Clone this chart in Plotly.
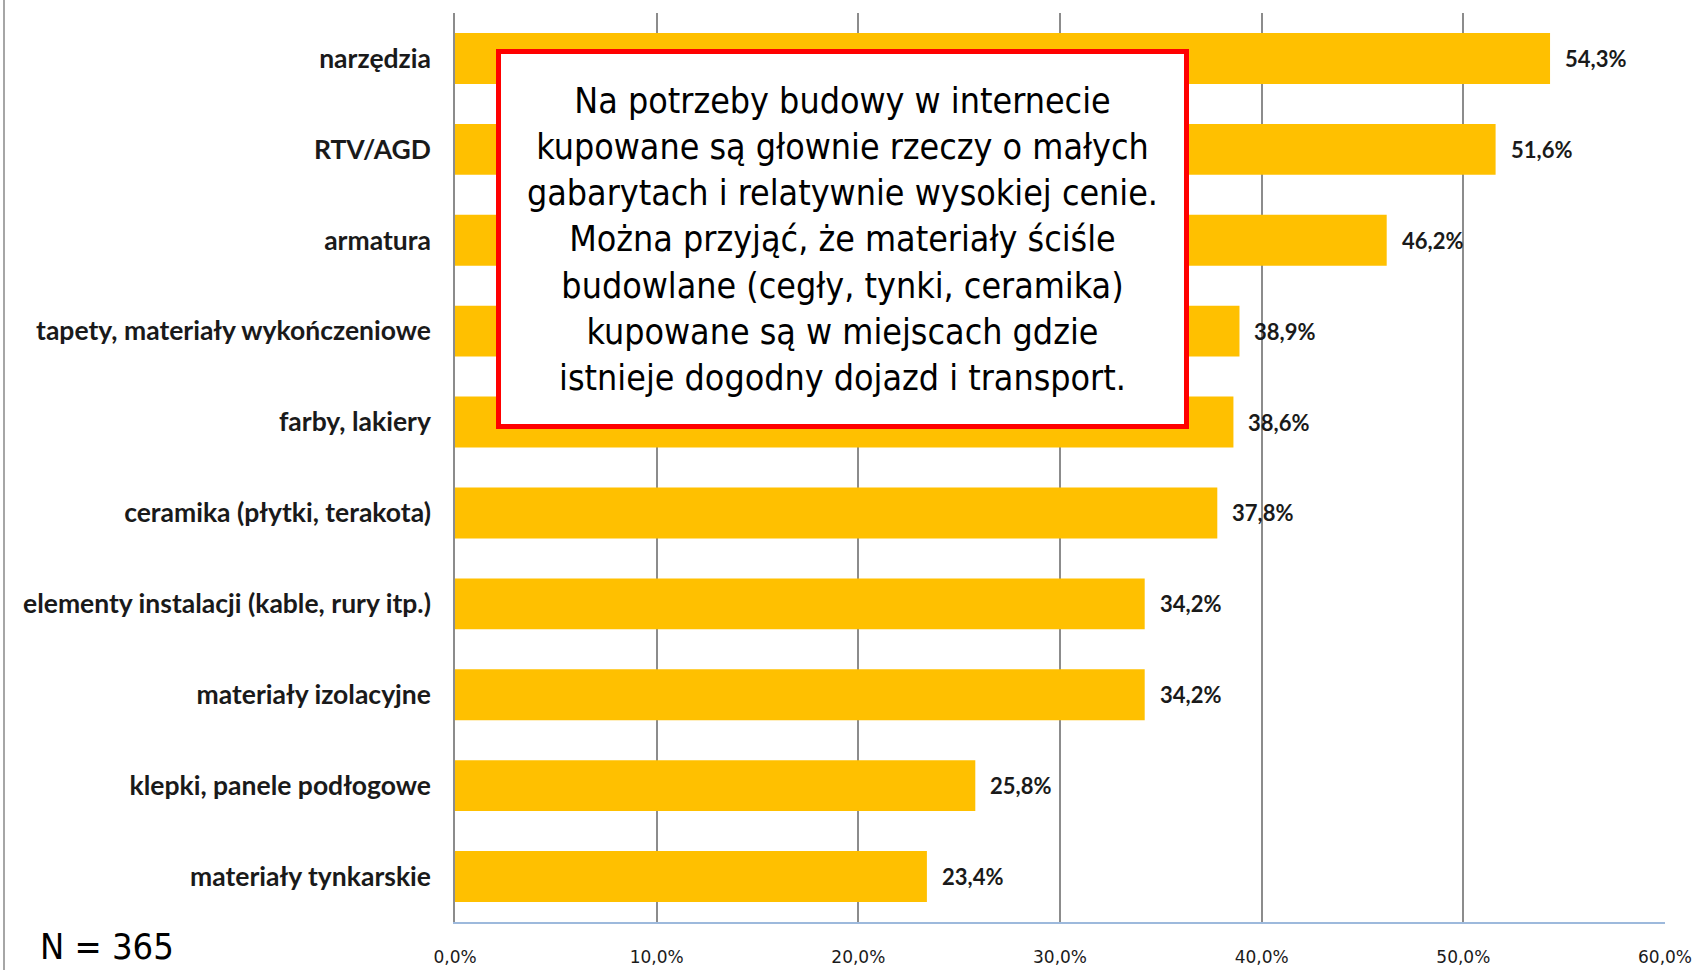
import plotly.graph_objects as go

# survey data: what is bought online for construction
categories = [
    "narzędzia",
    "RTV/AGD",
    "armatura",
    "tapety, materiały wykończeniowe",
    "farby, lakiery",
    "ceramika (płytki, terakota)",
    "elementy instalacji (kable, rury itp.)",
    "materiały izolacyjne",
    "klepki, panele podłogowe",
    "materiały tynkarskie",
]
values = [54.3, 51.6, 46.2, 38.9, 38.6, 37.8, 34.2, 34.2, 25.8, 23.4]
tick_values = [0, 10, 20, 30, 40, 50, 60]
tick_text = [f"{t:.1f}%".replace(".", ",") for t in tick_values]

note_text = (
    "Na potrzeby budowy w internecie<br>"
    "kupowane są głownie rzeczy o małych<br>"
    "gabarytach i relatywnie wysokiej cenie.<br>"
    "Można przyjąć, że materiały ściśle<br>"
    "budowlane (cegły, tynki, ceramika)<br>"
    "kupowane są w miejscach gdzie<br>"
    "istnieje dogodny dojazd i transport."
)

W, H = 1699, 970
ML, MR, MT, MB = 455, 34, 13, 48
plot_w = W - ML - MR
plot_h = H - MT - MB

fig = go.Figure()
fig.add_trace(go.Bar(
    x=values,
    y=categories,
    orientation="h",
    marker=dict(color="#FFC000", line=dict(width=0)),
    hoverinfo="x+y",
))

# value labels right of each bar
for cat, val in zip(categories, values):
    fig.add_annotation(
        x=val, y=cat, xref="x", yref="y",
        text=f"{val:.1f}%".replace(".", ","),
        showarrow=False, xanchor="left", xshift=13,
        font=dict(family="Lato", size=22, color="#1a1a1a", weight="bold"),
    )

# text box
box_l, box_r, box_t, box_b = 496, 1189, 51, 427
fig.add_annotation(
    xref="paper", yref="paper",
    x=((box_l + box_r) / 2 - ML) / plot_w,
    y=1 - ((box_t + box_b) / 2 - MT) / plot_h,
    xanchor="center", yanchor="middle",
    text=note_text, showarrow=False, align="center",
    width=box_r - box_l - 10, height=box_b - box_t - 6,
    bgcolor="white", bordercolor="#FF0000", borderwidth=5, borderpad=0,
    font=dict(family="DejaVu Sans Condensed, DejaVu Sans", size=35.5, color="black"),
)

# N = 365
fig.add_annotation(
    xref="paper", yref="paper",
    x=(38 - ML) / plot_w, y=-(946 - MT - plot_h) / plot_h,
    xanchor="left", yanchor="middle",
    text="N = 365", showarrow=False,
    font=dict(family="DejaVu Sans Condensed, DejaVu Sans", size=36, color="black"),
)

# page frame line on the left
fig.add_shape(
    type="line", xref="paper", yref="paper",
    x0=(4 - ML) / plot_w, x1=(4 - ML) / plot_w,
    y0=-MB / plot_h, y1=1 + MT / plot_h,
    line=dict(color="#A6A6A6", width=2),
)

fig.update_layout(
    width=W, height=H,
    margin=dict(l=ML, r=MR, t=MT, b=MB),
    paper_bgcolor="white", plot_bgcolor="white",
    showlegend=False,
    bargap=0.44,
    xaxis=dict(
        range=[0, 60], tickvals=tick_values, ticktext=tick_text,
        showgrid=True, gridcolor="#8C8C8C", gridwidth=1.5,
        showline=True, linecolor="#9DB9DC", linewidth=2,
        zeroline=False, ticks="", ticklabelstandoff=19, automargin=False,
        tickfont=dict(family="DejaVu Sans", size=17, color="#1a1a1a"),
    ),
    yaxis=dict(
        autorange="reversed", automargin=False,
        showgrid=False, showline=True, linecolor="#8C8C8C", linewidth=1.5,
        ticks="", ticklabelstandoff=17,
        tickfont=dict(family="Lato", size=26.5, color="#1a1a1a", weight="bold"),
    ),
)

fig.write_html(
    "out.html",
    config={"displayModeBar": False},
    post_script="document.body.style.margin='0';",
)
